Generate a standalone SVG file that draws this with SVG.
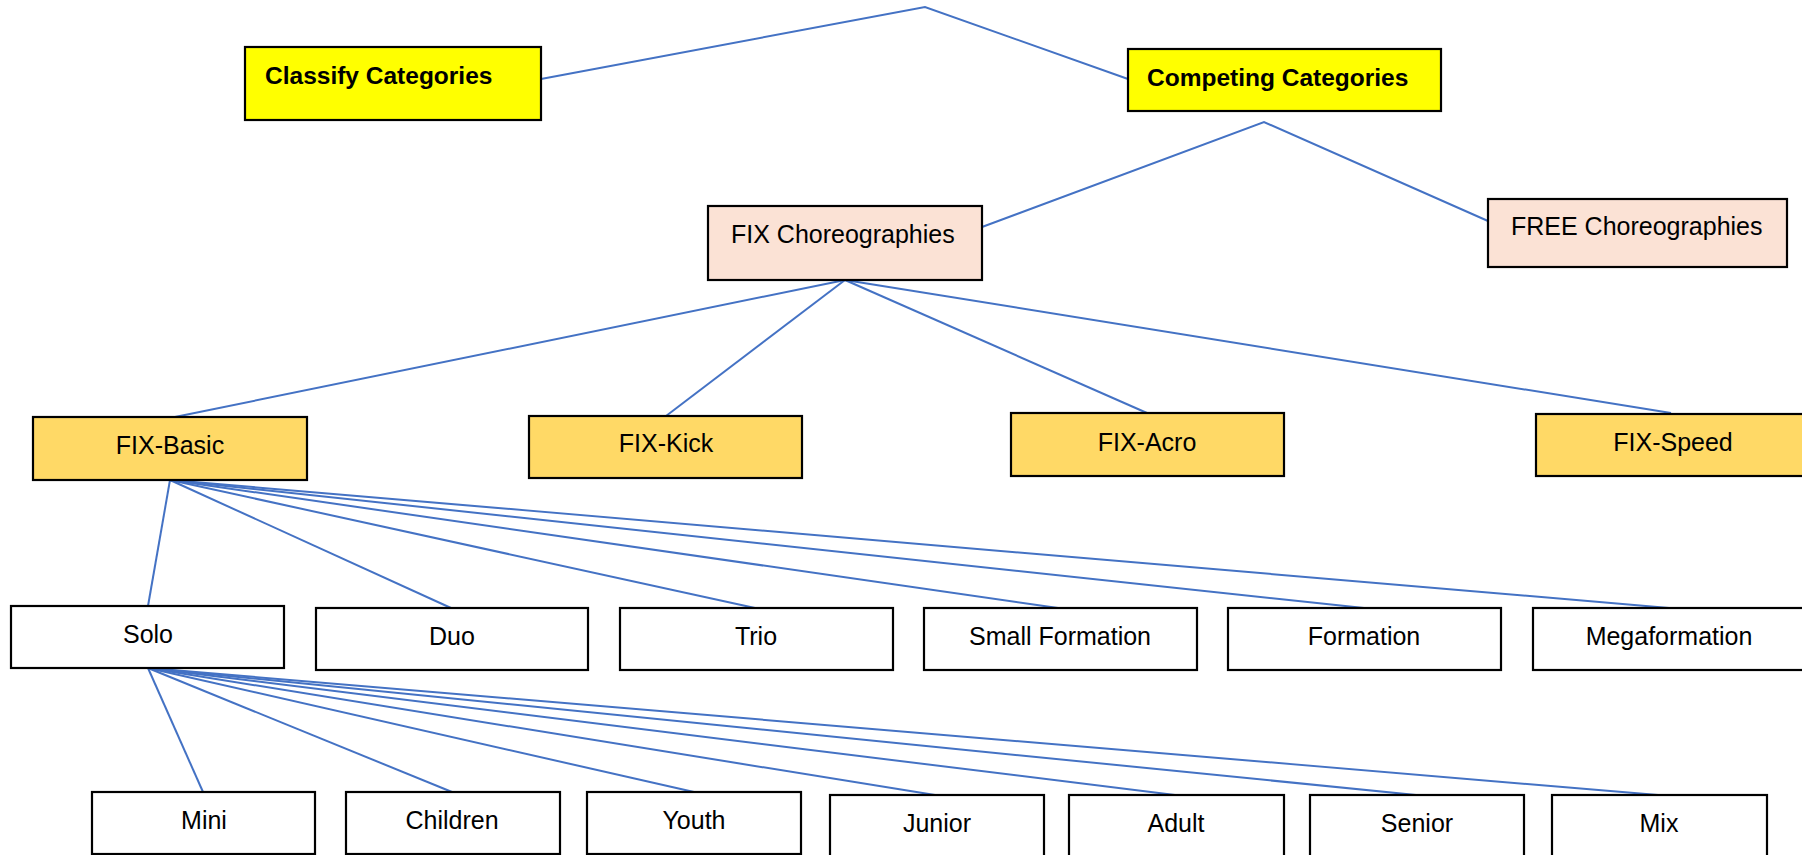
<svg xmlns="http://www.w3.org/2000/svg" width="1802" height="855" viewBox="0 0 1802 855">
<style>
.box{stroke:#000;stroke-width:2.2}
.y{fill:#FFFF00}
.p{fill:#FBE2D5}
.g{fill:#FFD966}
.w{fill:#FFFFFF}
.t{font-family:"Liberation Sans",Arial,sans-serif;font-size:25px;fill:#000}
.c{text-anchor:middle}
.b{font-weight:bold;font-size:24.5px}
.links line,.links polyline{stroke:#4472C4;stroke-width:2;fill:none}
</style>
<rect width="1802" height="855" fill="#FFFFFF"/>
<g class="links" id="connectors">
<polyline points="541,79 925,7 1128,79"/>
<polyline points="982,227 1264,122 1488,221"/>
<line x1="845" y1="280" x2="170" y2="418"/>
<line x1="845" y1="280" x2="666" y2="416"/>
<line x1="845" y1="280" x2="1147" y2="413"/>
<line x1="845" y1="280" x2="1671" y2="413"/>
<line x1="170" y1="480" x2="148" y2="606"/>
<line x1="170" y1="480" x2="451" y2="608"/>
<line x1="170" y1="480" x2="755" y2="608"/>
<line x1="170" y1="480" x2="1058" y2="608"/>
<line x1="170" y1="480" x2="1364" y2="608"/>
<line x1="170" y1="480" x2="1669" y2="608"/>
<line x1="148" y1="668" x2="203" y2="792"/>
<line x1="148" y1="668" x2="452" y2="792"/>
<line x1="148" y1="668" x2="694" y2="792"/>
<line x1="148" y1="668" x2="935" y2="795"/>
<line x1="148" y1="668" x2="1175" y2="795"/>
<line x1="148" y1="668" x2="1416" y2="795"/>
<line x1="148" y1="668" x2="1658" y2="795"/>
</g>
<g id="classify"><rect class="box y" x="245" y="47" width="296" height="73"/><text class="t b" x="265" y="84">Classify Categories</text></g>
<g id="competing"><rect class="box y" x="1128" y="49" width="313" height="62"/><text class="t b" x="1147" y="86">Competing Categories</text></g>
<g id="fixchoreo"><rect class="box p" x="708" y="206" width="274" height="74"/><text class="t" x="731" y="243">FIX Choreographies</text></g>
<g id="freechoreo"><rect class="box p" x="1488" y="199" width="299" height="68"/><text class="t" x="1511" y="235">FREE Choreographies</text></g>
<g id="fixbasic"><rect class="box g" x="33" y="417" width="274" height="63"/><text class="t c" x="170" y="454">FIX-Basic</text></g>
<g id="fixkick"><rect class="box g" x="529" y="416" width="273" height="62"/><text class="t c" x="666" y="452">FIX-Kick</text></g>
<g id="fixacro"><rect class="box g" x="1011" y="413" width="273" height="63"/><text class="t c" x="1147" y="451">FIX-Acro</text></g>
<g id="fixspeed"><rect class="box g" x="1536" y="414" width="273" height="62"/><text class="t c" x="1673" y="451">FIX-Speed</text></g>
<g id="solo"><rect class="box w" x="11" y="606" width="273" height="62"/><text class="t c" x="148" y="643">Solo</text></g>
<g id="duo"><rect class="box w" x="316" y="608" width="272" height="62"/><text class="t c" x="452" y="645">Duo</text></g>
<g id="trio"><rect class="box w" x="620" y="608" width="273" height="62"/><text class="t c" x="756" y="645">Trio</text></g>
<g id="smallformation"><rect class="box w" x="924" y="608" width="273" height="62"/><text class="t c" x="1060" y="645">Small Formation</text></g>
<g id="formation"><rect class="box w" x="1228" y="608" width="273" height="62"/><text class="t c" x="1364" y="645">Formation</text></g>
<g id="megaformation"><rect class="box w" x="1533" y="608" width="273" height="62"/><text class="t c" x="1669" y="645">Megaformation</text></g>
<g id="mini"><rect class="box w" x="92" y="792" width="223" height="62"/><text class="t c" x="204" y="829">Mini</text></g>
<g id="children"><rect class="box w" x="346" y="792" width="214" height="62"/><text class="t c" x="452" y="829">Children</text></g>
<g id="youth"><rect class="box w" x="587" y="792" width="214" height="62"/><text class="t c" x="694" y="829">Youth</text></g>
<g id="junior"><rect class="box w" x="830" y="795" width="214" height="62"/><text class="t c" x="937" y="832">Junior</text></g>
<g id="adult"><rect class="box w" x="1069" y="795" width="215" height="62"/><text class="t c" x="1176" y="832">Adult</text></g>
<g id="senior"><rect class="box w" x="1310" y="795" width="214" height="62"/><text class="t c" x="1417" y="832">Senior</text></g>
<g id="mix"><rect class="box w" x="1552" y="795" width="215" height="62"/><text class="t c" x="1659" y="832">Mix</text></g>
</svg>
